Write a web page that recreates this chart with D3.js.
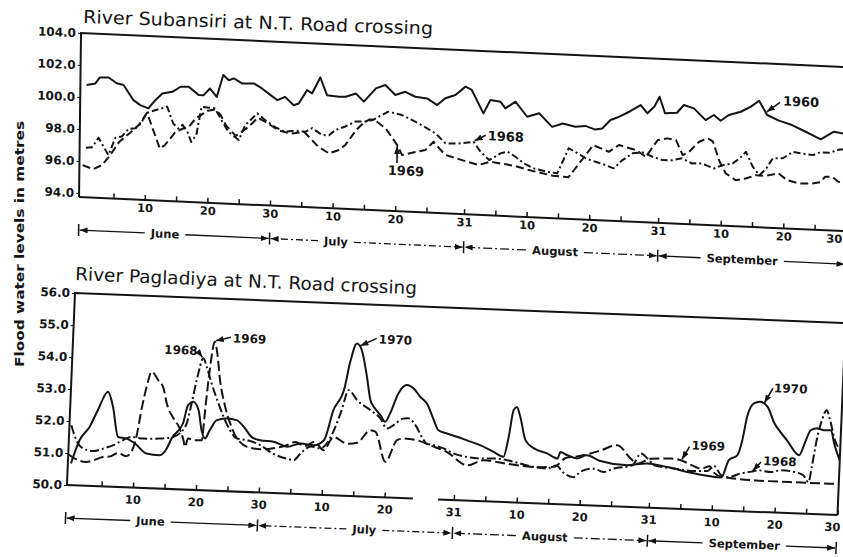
<!DOCTYPE html>
<html>
<head>
<meta charset="utf-8">
<title>Flood water levels</title>
<script src="https://cdn.jsdelivr.net/npm/d3@7"></script>
<style>
  body { margin: 0; background: #fff; }
  svg { display: block; font-family: "DejaVu Sans", sans-serif; }
</style>
</head>
<body>
<div id="chart"></div>
<script>
// day 1 = 1 June, day 122 = 30 September; levels in metres
const subansiri1960 = [[0.5,100.77],[1.9,100.89],[2.6,101.28],[4,101.3],[5.3,100.96],[6.4,100.87],[8,99.95],[9.1,99.66],[10.4,99.48],[11.5,100.01],[12.6,100.45],[14.2,100.58],[15.5,100.92],[16.8,100.94],[17.8,100.64],[18.4,100.45],[19.2,100.46],[20.2,100.89],[21.3,100.39],[22.3,101.77],[23.2,101.46],[24,101.59],[25.3,101.3],[27.2,101.33],[28.5,101.04],[29.9,100.65],[31,100.35],[32.2,100.58],[33.6,100.08],[34.4,100.2],[35.7,101.06],[36.5,100.87],[37.8,101.89],[38.9,100.8],[40.8,100.73],[41.9,100.76],[43.5,100.99],[44.8,100.5],[46.7,101.36],[48.2,101.6],[49.8,101.0],[51.4,101.23],[53,100.95],[54.9,100.88],[56.5,100.49],[57.8,100.94],[59.4,101.17],[61,101.72],[62,101.53],[63.9,100.1],[65,100.95],[66.6,100.88],[67.4,100.47],[69,100.92],[70.9,100.01],[72.8,100.26],[74.9,99.45],[76.6,99.69],[78.6,99.52],[80.2,99.6],[81.8,99.4],[82.9,99.49],[84.2,100.04],[85.6,100.27],[87.2,100.61],[89,101.06],[90.1,100.56],[91.2,101.0],[92,101.63],[92.9,100.61],[94.8,100.68],[95.9,101.18],[97.5,101.0],[99.4,100.3],[100.7,100.64],[101.8,100.3],[103.1,100.68],[105,100.92],[106.6,101.27],[107.9,101.66],[109.2,100.79],[111.1,100.47],[113.2,100.23],[115.4,99.85],[117.8,99.42],[119.9,99.93],[122,99.8]];
const subansiri1968 = [[0.5,96.85],[1.5,96.9],[2.5,97.5],[4.1,96.45],[5.2,97.55],[6.2,97.65],[7.3,98.15],[8.4,98.2],[9.2,98.5],[10.2,99.2],[13.4,99.64],[14.4,98.6],[15.2,98.3],[15.9,98.55],[16.7,98.1],[17.3,97.5],[18.1,97.95],[18.9,99.73],[21,99.67],[23.2,98.24],[24.9,97.75],[25.9,98.7],[27.8,99.47],[29.1,99.07],[30.6,98.68],[32.2,98.4],[33.8,98.5],[35.5,98.45],[36.6,98.7],[38.2,98.3],[39.3,98.3],[40.3,98.65],[41.9,98.9],[43.5,99.24],[45.1,99.27],[46.2,99.37],[47.2,99.6],[48.7,99.94],[50.9,99.77],[53.6,99.29],[56.3,98.72],[57.9,98.12],[60,98.15],[62.4,98.3],[63.5,97.7],[64.9,97.2],[66.7,97.65],[67.8,97.78],[69.1,97.48],[70.5,97.08],[72.1,96.8],[74.2,96.63],[75.8,96.56],[77.6,98.16],[79.5,97.77],[80.3,97.58],[81.9,97.39],[83.5,97.21],[84.8,97.03],[86.2,97.57],[87.8,98.02],[89.4,98.1],[91,97.86],[92.6,97.68],[94.1,97.7],[95.7,97.85],[97.3,97.55],[98.4,97.6],[99.5,97.49],[100.8,97.3],[102.2,97.53],[103.8,97.67],[104.9,98.0],[105.9,98.43],[107,97.52],[108.1,97.0],[109.2,97.46],[110.2,98.1],[111.8,98.13],[113.4,98.56],[115,98.48],[116.6,98.41],[117.7,98.6],[119.3,98.6],[120.4,98.79],[122,98.9]];
const subansiri1969 = [[0,95.75],[0.7,95.66],[1.7,95.53],[3.1,95.81],[4.2,96.35],[5.8,97.3],[7.4,97.86],[8.9,98.41],[10.2,99.2],[12.3,97.0],[13.1,97.23],[14.8,98.09],[15.9,98.3],[16.9,98.45],[18,98.99],[19.9,99.5],[21,99.6],[21.9,99.3],[22.9,98.6],[24.4,98.0],[26.4,98.6],[27.9,99.2],[29.4,98.9],[31.3,98.45],[33.3,98.3],[35.3,98.45],[37.6,97.56],[39.3,97.17],[40.9,97.41],[41.9,97.74],[42.5,98.06],[43.6,98.7],[44.7,99.13],[45.7,99.4],[46.5,99.4],[48.3,98.9],[50.2,97.88],[51,97.27],[53.1,97.5],[54.7,97.65],[56,98.19],[56.9,97.8],[57.9,97.4],[60.6,97.12],[63.2,96.86],[65.1,97.1],[67.1,97.0],[69.1,96.9],[71.1,96.7],[73.1,96.55],[75.1,96.4],[77.6,96.35],[79.7,97.46],[81.5,98.42],[84,98.05],[85.6,98.5],[88.3,98.24],[89.9,97.84],[91.8,98.92],[93.3,99.05],[94.7,98.97],[95.8,98.05],[96.8,98.27],[98.4,98.93],[99.8,99.17],[100.6,98.98],[101.7,97.74],[102.7,97.03],[104.3,96.63],[105.9,96.76],[107.5,97.0],[109.1,96.98],[111.1,97.18],[112.5,96.78],[114.4,96.6],[116.5,96.64],[117.8,96.73],[118.6,97.1],[119.7,97.1],[120.7,96.82],[122,96.6]];

const pagladiya1968 = [[-0.2,51.87],[0.7,51.41],[1.8,51.16],[3.4,51.09],[5,51.18],[6.6,51.3],[8.1,51.47],[9.4,51.58],[11.3,51.54],[13.9,51.56],[16,51.63],[17,51.74],[18.1,52.07],[18.75,52.7],[19.4,53.43],[20.3,54.12],[20.9,53.86],[21.8,53.34],[23,52.73],[23.9,52.32],[25,51.91],[26.1,51.66],[27.7,51.62],[29.9,51.48],[32,51.23],[34.2,51.09],[35.3,51.05],[36.5,51.3],[38,51.5],[39.5,51.45],[41,51.8],[42.5,52.6],[43.6,53.3],[45,53.0],[47.2,52.7],[48.8,52.46],[49.9,52.15],[50.9,52.26],[52.4,52.48],[53.2,52.5],[54.6,52.24],[55.5,51.93],[56.3,51.73],[57.4,51.69],[59,51.6],[60.7,51.45],[62.8,51.36],[65,51.33],[67.6,51.35],[69.2,51.31],[71.3,51.22],[73.5,51.13],[75.6,51.1],[77,51.2],[78.4,50.96],[79.8,50.86],[81,51.05],[83,51.15],[84.6,51.06],[86.2,51.18],[89.1,51.3],[90.4,51.68],[91.5,51.53],[92.6,51.33],[95.8,51.25],[99,51.2],[101.1,51.22],[102.1,51.38],[103.3,51.1],[104.4,51.05],[106.5,51.19],[108.1,51.25],[109.1,51.3],[111.2,51.26],[112.8,51.33],[114.9,51.29],[116.3,51.2],[117.2,50.99],[117.6,51.47],[118.2,52.31],[118.9,52.94],[119.6,53.26],[120.2,52.95],[121.1,52.33],[122,52.03]];
const pagladiya1969 = [[-0.5,50.96],[0.6,50.83],[2.4,50.74],[3.5,50.8],[5,50.92],[6.1,50.94],[7.4,51.06],[8.7,50.97],[9.5,51.11],[10.2,51.58],[10.9,52.53],[11.5,53.16],[12.2,53.64],[13.3,53.38],[14.2,53.13],[14.8,52.67],[16,52.2],[16.9,51.95],[17.7,51.54],[18,51.33],[18.4,51.6],[19.5,51.55],[20.6,51.56],[21,52.7],[21.4,53.76],[22,54.65],[22.4,54.39],[23.1,53.46],[24.1,52.63],[25,52.12],[25.85,51.76],[26.7,51.55],[28,51.4],[30,51.35],[32,51.4],[34,51.5],[35.5,51.62],[37,51.5],[38.5,51.65],[40,51.4],[41.5,51.82],[43.7,51.63],[45.3,51.67],[47.3,52.08],[48.1,52.04],[49.9,51.11],[51.6,51.8],[52.7,51.86],[54.8,51.82],[56.9,51.68],[59.6,51.49],[62.9,51.1],[65.5,51.28],[69.2,51.2],[73.5,51.13],[76.7,51.16],[78.5,51.45],[80,51.5],[82.4,51.62],[84,51.73],[86.6,51.91],[88.8,51.51],[89.9,51.36],[92,51.53],[95.2,51.56],[96.8,51.52],[98.5,51.38],[100.1,51.28],[101.4,51.37],[102,51.19],[103.4,51.05],[108.8,50.98],[114.1,50.97],[120.5,50.97],[122,50.98]];
const pagladiya1970 = [[0,50.68],[1.2,51.41],[2.7,51.84],[3.9,52.37],[5.4,52.96],[6.3,52.49],[7.3,51.56],[8.7,51.52],[10,51.38],[11.9,51.08],[14,51.04],[15.1,51.26],[15.8,51.58],[17.5,52.06],[18.2,52.64],[19,52.75],[19.9,52.49],[20.5,51.87],[21.1,51.62],[21.8,51.88],[22.8,52.2],[24.4,52.27],[26,52.23],[27.4,51.98],[28.5,51.72],[29.9,51.63],[32,51.6],[34.2,51.46],[36.3,51.58],[38.4,51.54],[40,51.71],[41.3,52.66],[42.9,53.35],[43.6,54.14],[44.6,54.77],[45.4,54.57],[46.4,53.74],[47.1,53.02],[47.9,52.76],[48.8,52.56],[49.6,52.36],[50.3,52.62],[51.5,53.26],[52.8,53.53],[53.9,53.43],[55,53.18],[56.1,52.98],[57.3,52.47],[58.1,52.16],[59.5,52.07],[61.1,51.98],[62.7,51.88],[64.9,51.74],[67,51.55],[68.6,51.41],[69.3,52.04],[69.9,52.88],[70.4,52.98],[71,52.68],[72,51.95],[73.4,51.71],[75.5,51.57],[77.2,51.42],[77.6,51.63],[78.7,51.54],[80.3,51.45],[81.8,51.56],[84,51.4],[88,51.3],[91.5,51.38],[94.7,51.29],[99.1,51.12],[103.3,51.03],[104.4,51.58],[105.7,51.74],[106.4,52.22],[107,52.95],[108,53.38],[109,53.44],[110.2,53.29],[111.4,52.78],[112.4,52.52],[113.5,52.27],[115.5,51.82],[116.5,52.3],[117.2,52.62],[118.3,52.68],[119.3,52.63],[120.4,52.64],[121,52.23],[122,51.71]];

const subansiriTicks = [94, 96, 98, 100, 102, 104];
const pagladiyaTicks = [50, 51, 52, 53, 54, 55, 56];
const dayTicks = [5, 10, 15, 20, 25, 30, 35, 40, 45, 50, 55, 61, 66, 71, 76, 81, 86, 92, 97, 102, 107, 112, 117, 122];
const dayLabels = { 10: '10', 20: '20', 30: '30', 40: '10', 50: '20', 61: '31', 71: '10', 81: '20', 92: '31', 102: '10', 112: '20', 122: '30' };
const months = ['June', 'July', 'August', 'September'];
const monthBounds = [-0.5, 30, 61, 92, 122];
const monthDash = [null, '7,3,2,3', '9,3,2,3', null];

const W = 843;
const H = 557;
const ink = '#141414';

const svg = d3.select('#chart').append('svg')
  .attr('width', W)
  .attr('height', H);

const defs = svg.append('defs');
defs.append('marker')
  .attr('id', 'arrow')
  .attr('viewBox', '0 0 8 6')
  .attr('refX', 8)
  .attr('refY', 3)
  .attr('markerWidth', 8)
  .attr('markerHeight', 6)
  .attr('markerUnits', 'userSpaceOnUse')
  .attr('orient', 'auto')
  .append('path')
  .attr('d', 'M0,0L8,3L0,6z')
  .attr('fill', ink);

// the page was scanned at a slant, so each panel sits in a sheared frame
const panels = [
  {
    title: 'River Subansiri at N.T. Road crossing',
    titleAt: [83, 23], titleTilt: 1.9, titleLen: 350,
    origin: [81, 33], shear: [0.0446, -0.012],
    height: 164, dayPx: 6.26,
    yDomain: [93.75, 104], yTicks: subansiriTicks,
    labelPad: 4, axisGap: null, lastLabelShift: -4,
    monthLabelDays: [13.3, 40.6, 75.6, 105.5],
    curve: d3.curveLinear,
    noteSize: 13,
    series: [
      { data: subansiri1960, dash: null },
      { data: subansiri1968, dash: '7,3,2,3' },
      { data: subansiri1969, dash: '8,4' },
    ],
    notes: [
      { data: subansiri1960, day: 109, text: '1960', dx: 17, dy: -8, lx: 14, ly: -11 },
      { data: subansiri1968, day: 62.4, text: '1968', dx: 14, dy: -2, lx: 12, ly: -7 },
      { data: subansiri1969, day: 50.2, text: '1969', dx: -9, dy: 30, lx: 0, ly: 18 },
    ],
  },
  {
    title: 'River Pagladiya at N.T. Road crossing',
    titleAt: [75, 280], titleTilt: 2.4, titleLen: 342,
    origin: [75, 293], shear: [0.039, -0.042],
    height: 192, dayPx: 6.29,
    yDomain: [50, 56], yTicks: pagladiyaTicks,
    labelPad: 8, axisGap: [54.5, 58.5], lastLabelShift: 3,
    monthLabelDays: [13, 47, 75.7, 107.4],
    curve: d3.curveMonotoneX,
    noteSize: 12,
    series: [
      { data: pagladiya1970, dash: null },
      { data: pagladiya1968, dash: '9,3,2,3' },
      { data: pagladiya1969, dash: '10,4' },
    ],
    notes: [
      { data: pagladiya1968, day: 20.3, text: '1968', dx: -6, dy: -3, lx: -5, ly: -6, end: true },
      { data: pagladiya1969, day: 22, text: '1969', dx: 18, dy: 0, lx: 16, ly: -5 },
      { data: pagladiya1970, day: 45, text: '1970', dx: 19, dy: -4, lx: 17, ly: -9 },
      { data: pagladiya1970, day: 109.5, text: '1970', dx: 10, dy: -12, lx: 9, ly: -16 },
      { data: pagladiya1969, day: 96.8, text: '1969', dx: 10, dy: -11, lx: 8, ly: -14 },
      { data: pagladiya1968, day: 108.1, text: '1968', dx: 11, dy: -7, lx: 9, ly: -10 },
    ],
  },
];

function valueAt(data, day) {
  const i = d3.bisector(d => d[0]).left(data, day);
  if (i <= 0) return data[0][1];
  if (i >= data.length) return data[data.length - 1][1];
  const a = data[i - 1];
  const b = data[i];
  return a[1] + (b[1] - a[1]) * (day - a[0]) / (b[0] - a[0]);
}

function drawPanel(p) {
  const width = 122.5 * p.dayPx;
  const x = d3.scaleLinear().domain([-0.5, 122]).range([0, width]);
  const y = d3.scaleLinear().domain(p.yDomain).range([p.height, 0]);

  svg.append('text')
    .attr('transform', `translate(${p.titleAt[0]},${p.titleAt[1]}) rotate(${p.titleTilt})`)
    .attr('font-size', 18)
    .attr('textLength', p.titleLen)
    .attr('lengthAdjust', 'spacingAndGlyphs')
    .attr('fill', ink)
    .text(p.title);

  const g = svg.append('g')
    .attr('transform', `matrix(1,${p.shear[0]},${p.shear[1]},1,${p.origin[0]},${p.origin[1]})`);

  // frame: left, top, right
  g.append('path')
    .attr('d', `M0,${p.height}V0H${width}V${p.height}`)
    .attr('fill', 'none')
    .attr('stroke', ink)
    .attr('stroke-width', 2);

  // bottom axis (the lower one is broken at the end of July)
  const ticks = p.axisGap
    ? dayTicks.filter(d => d < p.axisGap[0] || d > p.axisGap[1])
    : dayTicks;
  const xAxis = d3.axisBottom(x)
    .tickValues(ticks)
    .tickSize(-5)
    .tickSizeOuter(0)
    .tickPadding(p.labelPad)
    .tickFormat(d => dayLabels[d] || '');
  const xg = g.append('g')
    .attr('transform', `translate(0,${p.height})`)
    .call(xAxis)
    .attr('font-family', 'DejaVu Sans, sans-serif')
    .attr('font-size', 11.5)
    .attr('font-weight', 'bold')
    .style('color', ink);
  xg.select('.domain').remove();
  xg.selectAll('.tick line').attr('stroke-width', 1.5);
  // keep the last label (30 September) inside the page
  xg.selectAll('.tick text')
    .filter(d => d === 122)
    .attr('text-anchor', 'end')
    .attr('x', p.lastLabelShift);

  const segs = p.axisGap ? [[-0.5, p.axisGap[0]], [p.axisGap[1], 122]] : [[-0.5, 122]];
  g.selectAll('.baseline')
    .data(segs)
    .join('line')
    .attr('class', 'baseline')
    .attr('x1', d => x(d[0]))
    .attr('x2', d => x(d[1]))
    .attr('y1', p.height)
    .attr('y2', p.height)
    .attr('stroke', ink)
    .attr('stroke-width', 2);

  const yAxis = d3.axisLeft(y)
    .tickValues(p.yTicks)
    .tickSize(3)
    .tickPadding(2)
    .tickFormat(d3.format('.1f'));
  const yg = g.append('g')
    .call(yAxis)
    .attr('font-family', 'DejaVu Sans, sans-serif')
    .attr('font-size', 12)
    .attr('font-weight', 'bold')
    .style('color', ink);
  yg.select('.domain').remove();

  // series
  const line = d3.line()
    .x(d => x(d[0]))
    .y(d => y(d[1]))
    .curve(p.curve);

  g.selectAll('.series')
    .data(p.series)
    .join('path')
    .attr('class', 'series')
    .attr('d', d => line(d.data))
    .attr('fill', 'none')
    .attr('stroke', ink)
    .attr('stroke-width', 2)
    .attr('stroke-linejoin', 'round')
    .attr('stroke-dasharray', d => d.dash);

  // year labels with leaders
  p.notes.forEach((n) => {
    const ax = x(n.day);
    const ay = y(valueAt(n.data, n.day));
    g.append('line')
      .attr('x1', ax + n.lx)
      .attr('y1', ay + n.ly)
      .attr('x2', ax + Math.sign(n.lx) * 1)
      .attr('y2', ay + Math.sign(n.ly) * 1)
      .attr('stroke', ink)
      .attr('stroke-width', 1.6)
      .attr('marker-end', 'url(#arrow)');
    g.append('text')
      .attr('x', ax + n.dx)
      .attr('y', ay + n.dy)
      .attr('text-anchor', n.end ? 'end' : 'start')
      .attr('font-size', p.noteSize)
      .attr('font-weight', 'bold')
      .attr('fill', ink)
      .text(n.text);
  });

  // month brackets under the axis
  const by = p.height + 33;
  months.forEach((m, i) => {
    const cx = x(p.monthLabelDays[i]);
    const t = g.append('text')
      .attr('x', cx)
      .attr('y', by)
      .attr('dy', '0.35em')
      .attr('text-anchor', 'middle')
      .attr('font-size', 11.5)
      .attr('font-weight', 'bold')
      .attr('fill', ink)
      .text(m);
    const half = t.node().getComputedTextLength() / 2 + 6;
    const x0 = x(monthBounds[i]);
    const x1 = x(monthBounds[i + 1]);
    [[cx - half, x0 + 1], [cx + half, x1 - 1]].forEach((s) => {
      g.append('line')
        .attr('x1', s[0])
        .attr('x2', s[1])
        .attr('y1', by)
        .attr('y2', by)
        .attr('stroke', ink)
        .attr('stroke-width', 1.3)
        .attr('stroke-dasharray', monthDash[i])
        .attr('marker-end', 'url(#arrow)');
    });
  });
  g.selectAll('.bound')
    .data(monthBounds)
    .join('line')
    .attr('class', 'bound')
    .attr('x1', d => x(d))
    .attr('x2', d => x(d))
    .attr('y1', by - 6)
    .attr('y2', by + 6)
    .attr('stroke', ink)
    .attr('stroke-width', 1.5);
}

panels.forEach(drawPanel);

svg.append('text')
  .attr('transform', 'translate(24,244) rotate(-90)')
  .attr('text-anchor', 'middle')
  .attr('font-size', 12.5)
  .attr('font-weight', 'bold')
  .attr('textLength', 246)
  .attr('lengthAdjust', 'spacingAndGlyphs')
  .attr('fill', ink)
  .text('Flood water levels in metres');
</script>
</body>
</html>
